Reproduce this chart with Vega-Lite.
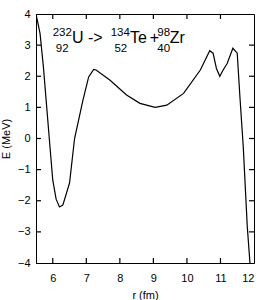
{
  "$schema": "https://vega.github.io/schema/vega-lite/v6.json",
  "width": 218,
  "height": 249,
  "autosize": "none",
  "padding": {"left": 36, "top": 14, "right": 12, "bottom": 37},
  "background": "white",
  "config": {
    "view": {"stroke": "black", "strokeWidth": 1},
    "font": "Liberation Sans",
    "axis": {
      "grid": false,
      "domainColor": "black",
      "tickColor": "transparent",
      "tickSize": -5,
      "labelColor": "black",
      "labelFont": "Liberation Sans",
      "labelFontSize": 11,
      "titleFont": "Liberation Sans",
      "titleFontSize": 11,
      "titleFontWeight": "normal",
      "titleColor": "black"
    }
  },
  "datasets": {
    "curve": [
      {"r": 5.5, "E": 4.0},
      {"r": 5.62, "E": 3.38},
      {"r": 5.72, "E": 2.31},
      {"r": 5.9, "E": -0.05},
      {"r": 6.0, "E": -1.34},
      {"r": 6.1, "E": -1.95},
      {"r": 6.2, "E": -2.2},
      {"r": 6.3, "E": -2.14},
      {"r": 6.5, "E": -1.43},
      {"r": 6.65, "E": 0.0},
      {"r": 6.9, "E": 1.23},
      {"r": 7.07, "E": 1.98},
      {"r": 7.22, "E": 2.22},
      {"r": 7.29, "E": 2.2},
      {"r": 7.7, "E": 1.88},
      {"r": 8.2, "E": 1.4},
      {"r": 8.6, "E": 1.13},
      {"r": 9.05, "E": 1.0},
      {"r": 9.4, "E": 1.07},
      {"r": 9.9, "E": 1.45},
      {"r": 10.4, "E": 2.2},
      {"r": 10.68, "E": 2.82},
      {"r": 10.78, "E": 2.74},
      {"r": 10.88, "E": 2.25},
      {"r": 10.98, "E": 2.0},
      {"r": 11.08, "E": 2.2},
      {"r": 11.2, "E": 2.41},
      {"r": 11.37, "E": 2.9},
      {"r": 11.5, "E": 2.74},
      {"r": 11.58, "E": 1.34},
      {"r": 11.68, "E": -0.27},
      {"r": 11.8, "E": -2.84},
      {"r": 11.88, "E": -4.0}
    ],
    "xticks": [{"r": 6}, {"r": 7}, {"r": 8}, {"r": 9}, {"r": 10}, {"r": 11}],
    "yticks": [{"E": -3}, {"E": -2}, {"E": -1}, {"E": 0}, {"E": 1}, {"E": 2}, {"E": 3}],
    "big": [
      {"r": 6.57, "E": 3.06, "t": "U"},
      {"r": 7.05, "E": 3.06, "t": "->"},
      {"r": 8.3, "E": 3.06, "t": "Te"},
      {"r": 8.89, "E": 3.06, "t": "+"},
      {"r": 9.49, "E": 3.06, "t": "Zr"}
    ],
    "small": [
      {"r": 6.57, "E": 3.28, "t": "232"},
      {"r": 6.47, "E": 2.79, "t": "92"},
      {"r": 8.3, "E": 3.28, "t": "134"},
      {"r": 8.22, "E": 2.79, "t": "52"},
      {"r": 9.5, "E": 3.28, "t": "98"},
      {"r": 9.5, "E": 2.79, "t": "40"}
    ]
  },
  "layer": [
    {
      "data": {"name": "curve"},
      "mark": {"type": "line", "color": "black", "strokeWidth": 1.2, "clip": true},
      "encoding": {
        "x": {"field": "r", "type": "quantitative", "scale": {"domain": [5.5, 12], "nice": false, "zero": false},
              "axis": {"orient": "bottom", "values": [6, 7, 8, 9, 10, 11, 12], "title": "r (fm)", "labelPadding": 14, "titlePadding": 6}},
        "y": {"field": "E", "type": "quantitative", "scale": {"domain": [-4, 4], "nice": false, "zero": false},
              "axis": {"orient": "left", "values": [-4, -3, -2, -1, 0, 1, 2, 3, 4], "title": "E (MeV)", "labelPadding": 11, "titlePadding": 6}}
      }
    },
    {
      "data": {"name": "xticks"},
      "mark": {"type": "rule", "color": "black", "strokeWidth": 1.2},
      "encoding": {
        "x": {"field": "r", "type": "quantitative", "axis": null},
        "y": {"datum": 4, "type": "quantitative", "axis": null},
        "y2": {"datum": 3.84}
      }
    },
    {
      "data": {"name": "xticks"},
      "mark": {"type": "rule", "color": "black", "strokeWidth": 1.2},
      "encoding": {
        "x": {"field": "r", "type": "quantitative", "axis": null},
        "y": {"datum": -4, "type": "quantitative", "axis": null},
        "y2": {"datum": -3.84}
      }
    },
    {
      "data": {"name": "yticks"},
      "mark": {"type": "rule", "color": "black", "strokeWidth": 1.2},
      "encoding": {
        "y": {"field": "E", "type": "quantitative", "axis": null},
        "x": {"datum": 5.5, "type": "quantitative", "axis": null},
        "x2": {"datum": 5.65}
      }
    },
    {
      "data": {"name": "yticks"},
      "mark": {"type": "rule", "color": "black", "strokeWidth": 1.2},
      "encoding": {
        "y": {"field": "E", "type": "quantitative", "axis": null},
        "x": {"datum": 12, "type": "quantitative", "axis": null},
        "x2": {"datum": 11.85}
      }
    },
    {
      "data": {"name": "big"},
      "mark": {"type": "text", "align": "left", "baseline": "alphabetic", "fontSize": 16, "font": "Liberation Sans", "color": "black"},
      "encoding": {
        "x": {"field": "r", "type": "quantitative", "axis": null},
        "y": {"field": "E", "type": "quantitative", "axis": null},
        "text": {"field": "t"}
      }
    },
    {
      "data": {"name": "small"},
      "mark": {"type": "text", "align": "right", "baseline": "alphabetic", "fontSize": 11.5, "font": "Liberation Sans", "color": "black"},
      "encoding": {
        "x": {"field": "r", "type": "quantitative", "axis": null},
        "y": {"field": "E", "type": "quantitative", "axis": null},
        "text": {"field": "t"}
      }
    }
  ],
  "resolve": {"axis": {"x": "independent", "y": "independent"}}
}
